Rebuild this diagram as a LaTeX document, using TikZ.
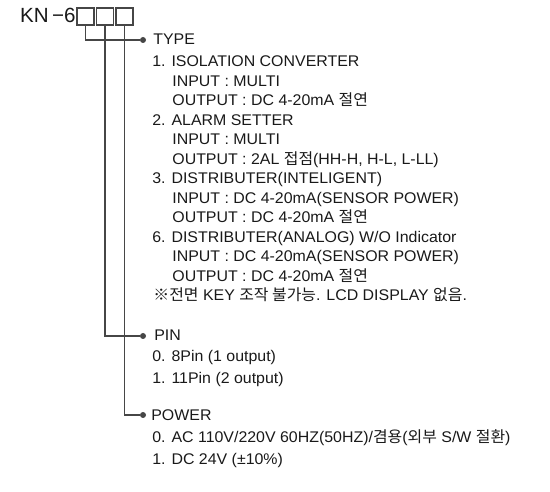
\documentclass[tikz,border=0pt]{standalone}
\usepackage{fontspec}
\setmainfont{Liberation Sans}
\newfontfamily\kr{Noto Sans CJK KR}
\usetikzlibrary{calc}
\definecolor{LineClr}{RGB}{70,70,70}
\definecolor{TextClr}{RGB}{25,25,25}

\begin{document}
\begin{tikzpicture}[x=0.02cm,y=-0.02cm,
  codebox/.style={draw=LineClr,line width=0.6pt,minimum size=0.34cm,inner sep=0pt},
  item/.style={anchor=base west,inner sep=0pt,text=TextClr,xscale=1.03,
    font=\fontsize{8.8}{10}\selectfont},
  lead/.style={LineClr,line width=0.6pt},
  tip/.style={circle,fill=LineClr,inner sep=0pt,minimum size=0.12cm}]
\useasboundingbox (0,0) rectangle (550,492);

% model code
\node[anchor=base east,inner sep=0pt,text=TextClr,font=\fontsize{11.7}{14}\selectfont] (kn) at (76,23) {KN\,−6};
\node[codebox] (c1) at (85.5,16.5) {};
\node[codebox] (c2) at (105,16.5) {};
\node[codebox] (c3) at (124.5,16.5) {};

% lead dots
\node[tip] (d1) at (143,40) {};
\node[tip] (d2) at (143,336) {};
\node[tip] (d3) at (143,415) {};

\draw[lead] (c1.south) |- (d1);
\draw[lead] (c2.south) |- (d2);
\draw[lead] (c3.south) |- (d3);

% TYPE
\node[item] (t0) at (153,45) {TYPE};
\node[item] (t1) at (152,67) {1. ISOLATION CONVERTER};
\node[item] (t2) at (172,86.5) {INPUT : MULTI};
\node[item] (t3) at (172,106) {OUTPUT : DC 4-20mA {\kr 절연}};
\node[item] (t4) at (152,125.5) {2. ALARM SETTER};
\node[item] (t5) at (172,145) {INPUT : MULTI};
\node[item] (t6) at (172,164.5) {OUTPUT : 2AL {\kr 접점}(HH-H, H-L, L-LL)};
\node[item] (t7) at (152,184) {3. DISTRIBUTER(INTELIGENT)};
\node[item] (t8) at (172,203.5) {INPUT : DC 4-20mA(SENSOR POWER)};
\node[item] (t9) at (172,223) {OUTPUT : DC 4-20mA {\kr 절연}};
\node[item] (t10) at (152,242.5) {6. DISTRIBUTER(ANALOG) W/O Indicator};
\node[item] (t11) at (172,262) {INPUT : DC 4-20mA(SENSOR POWER)};
\node[item] (t12) at (172,281.5) {OUTPUT : DC 4-20mA {\kr 절연}};
\node[item] (t13) at (153,301) {{\kr ※전면} KEY {\kr 조작 불가능}. LCD DISPLAY {\kr 없음}.};

% PIN
\node[item] (p0) at (154,341) {PIN};
\node[item] (p1) at (152,362) {0. 8Pin (1 output)};
\node[item] (p2) at (152,383) {1. 11Pin (2 output)};

% POWER
\node[item] (w0) at (151,420) {POWER};
\node[item] (w1) at (152,442) {0. AC 110V/220V 60HZ(50HZ)/{\kr 겸용}({\kr 외부} S/W {\kr 절환})};
\node[item] (w2) at (152,464) {1. DC 24V (±10\%)};

\end{tikzpicture}
\end{document}
